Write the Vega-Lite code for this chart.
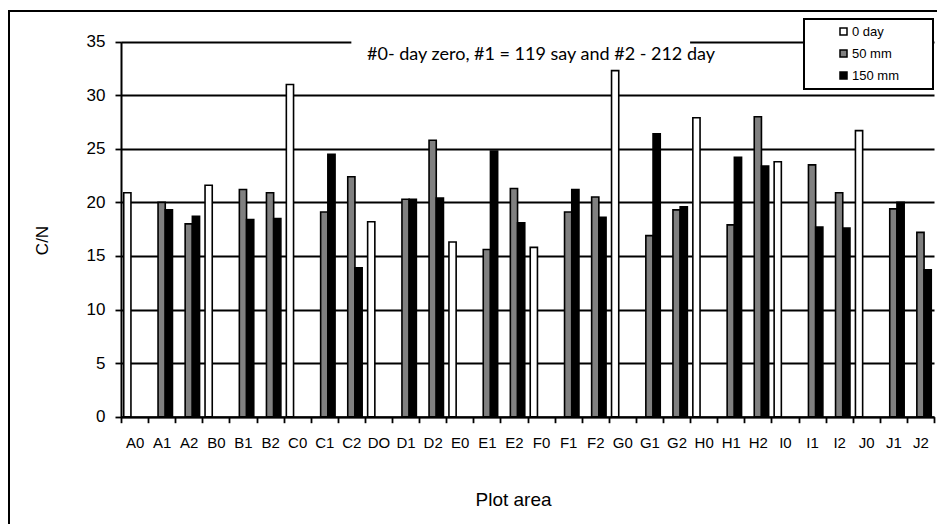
{
  "$schema": "https://vega.github.io/schema/vega-lite/v6.json",
  "autosize": {"type": "none"},
  "padding": {"left": 9, "top": 11, "right": 0, "bottom": 0},
  "width": 935,
  "height": 520,
  "background": "white",
  "config": {
    "view": {"stroke": "black", "strokeWidth": 2},
    "font": "Liberation Sans",
    "legend": {"strokeWidth": 2}
  },
  "data": {
    "values": [
      {"plot": "A0", "series": "0 day", "cn": 20.9},
      {"plot": "A1", "series": "50 mm", "cn": 20.0},
      {"plot": "A1", "series": "150 mm", "cn": 19.3},
      {"plot": "A2", "series": "50 mm", "cn": 18.0},
      {"plot": "A2", "series": "150 mm", "cn": 18.7},
      {"plot": "B0", "series": "0 day", "cn": 21.6},
      {"plot": "B1", "series": "50 mm", "cn": 21.2},
      {"plot": "B1", "series": "150 mm", "cn": 18.4},
      {"plot": "B2", "series": "50 mm", "cn": 20.9},
      {"plot": "B2", "series": "150 mm", "cn": 18.5},
      {"plot": "C0", "series": "0 day", "cn": 31.0},
      {"plot": "C1", "series": "50 mm", "cn": 19.1},
      {"plot": "C1", "series": "150 mm", "cn": 24.5},
      {"plot": "C2", "series": "50 mm", "cn": 22.4},
      {"plot": "C2", "series": "150 mm", "cn": 13.9},
      {"plot": "DO", "series": "0 day", "cn": 18.2},
      {"plot": "D1", "series": "50 mm", "cn": 20.3},
      {"plot": "D1", "series": "150 mm", "cn": 20.3},
      {"plot": "D2", "series": "50 mm", "cn": 25.8},
      {"plot": "D2", "series": "150 mm", "cn": 20.4},
      {"plot": "E0", "series": "0 day", "cn": 16.3},
      {"plot": "E1", "series": "50 mm", "cn": 15.6},
      {"plot": "E1", "series": "150 mm", "cn": 24.8},
      {"plot": "E2", "series": "50 mm", "cn": 21.3},
      {"plot": "E2", "series": "150 mm", "cn": 18.1},
      {"plot": "F0", "series": "0 day", "cn": 15.8},
      {"plot": "F1", "series": "50 mm", "cn": 19.1},
      {"plot": "F1", "series": "150 mm", "cn": 21.2},
      {"plot": "F2", "series": "50 mm", "cn": 20.5},
      {"plot": "F2", "series": "150 mm", "cn": 18.6},
      {"plot": "G0", "series": "0 day", "cn": 32.3},
      {"plot": "G1", "series": "50 mm", "cn": 16.9},
      {"plot": "G1", "series": "150 mm", "cn": 26.4},
      {"plot": "G2", "series": "50 mm", "cn": 19.3},
      {"plot": "G2", "series": "150 mm", "cn": 19.6},
      {"plot": "H0", "series": "0 day", "cn": 27.9},
      {"plot": "H1", "series": "50 mm", "cn": 17.9},
      {"plot": "H1", "series": "150 mm", "cn": 24.2},
      {"plot": "H2", "series": "50 mm", "cn": 28.0},
      {"plot": "H2", "series": "150 mm", "cn": 23.4},
      {"plot": "I0", "series": "0 day", "cn": 23.8},
      {"plot": "I1", "series": "50 mm", "cn": 23.5},
      {"plot": "I1", "series": "150 mm", "cn": 17.7},
      {"plot": "I2", "series": "50 mm", "cn": 20.9},
      {"plot": "I2", "series": "150 mm", "cn": 17.6},
      {"plot": "J0", "series": "0 day", "cn": 26.7},
      {"plot": "J1", "series": "50 mm", "cn": 19.4},
      {"plot": "J1", "series": "150 mm", "cn": 20.0},
      {"plot": "J2", "series": "50 mm", "cn": 17.2},
      {"plot": "J2", "series": "150 mm", "cn": 13.7}
    ]
  },
  "layer": [
    {
      "mark": {"type": "bar", "stroke": "black", "strokeWidth": 1.6},
      "encoding": {
        "x": {
          "field": "plot",
          "type": "nominal",
          "sort": ["A0","A1","A2","B0","B1","B2","C0","C1","C2","DO","D1","D2","E0","E1","E2","F0","F1","F2","G0","G1","G2","H0","H1","H2","I0","I1","I2","J0","J1","J2"],
          "scale": {
            "domain": ["A0","A1","A2","B0","B1","B2","C0","C1","C2","DO","D1","D2","E0","E1","E2","F0","F1","F2","G0","G1","G2","H0","H1","H2","I0","I1","I2","J0","J1","J2"],
            "range": [112, 925],
            "paddingInner": 0,
            "paddingOuter": 0
          },
          "axis": {
            "title": "Plot area",
            "titleFontSize": 19,
            "titleFontWeight": "normal",
            "titleColor": "black",
            "titleX": 504,
            "titleY": 89,
            "titleBaseline": "alphabetic",
            "labelAngle": 0,
            "labelFontSize": 15,
            "labelColor": "black",
            "labelPadding": 13,
            "tickBand": "extent",
            "tickSize": 6,
            "tickColor": "black",
            "tickWidth": 1.8,
            "domainColor": "black",
            "domainWidth": 2,
            "offset": -114.3,
            "grid": false
          }
        },
        "xOffset": {
          "field": "series",
          "type": "nominal",
          "sort": ["0 day", "50 mm", "150 mm"],
          "scale": {"domain": ["0 day", "50 mm", "150 mm"], "paddingInner": 0, "paddingOuter": 0.38}
        },
        "y": {
          "field": "cn",
          "type": "quantitative",
          "scale": {"domain": [0, 35], "range": [405.7, 30.7], "nice": false},
          "axis": {
            "title": "C/N",
            "titleFontSize": 17,
            "titleFontWeight": "normal",
            "titleColor": "black",
            "titleX": -70,
            "titleY": 229,
            "values": [0, 5, 10, 15, 20, 25, 30, 35],
            "labelFontSize": 17,
            "labelColor": "black",
            "labelPadding": 10,
            "tickSize": 6,
            "tickColor": "black",
            "tickWidth": 1.8,
            "domainColor": "black",
            "domainWidth": 2,
            "grid": true,
            "gridColor": "black",
            "gridWidth": 1.8,
            "gridOpacity": 1,
            "offset": -112
          }
        },
        "fill": {
          "field": "series",
          "type": "nominal",
          "scale": {"domain": ["0 day", "50 mm", "150 mm"], "range": ["#ffffff", "#808080", "#000000"]},
          "legend": {
            "orient": "none",
            "legendX": 795,
            "legendY": 8,
            "title": "MMM",
            "titleColor": "white",
            "titleOrient": "left",
            "titleFontSize": 10.5,
            "titlePadding": 0,
            "fillColor": "white",
            "strokeColor": "black",
            "padding": 6,
            "rowPadding": 8,
            "symbolType": "square",
            "symbolSize": 49,
            "symbolStrokeColor": "black",
            "symbolStrokeWidth": 1.5,
            "labelFontSize": 13,
            "labelColor": "black",
            "labelOffset": 2,
            "labelExpr": "datum.label + '\u2800\u00a0\u00a0\u2800'"
          }
        }
      }
    },
    {
      "data": {"values": [{"from": "C2", "to": "G2"}]},
      "mark": {"type": "rect", "fill": "white"},
      "encoding": {
        "x": {"datum": "C2", "type": "nominal", "bandPosition": 0.5},
        "x2": {"datum": "G2", "bandPosition": 1},
        "y": {"datum": 34.5, "type": "quantitative"},
        "y2": {"datum": 35.5}
      }
    },
    {
      "data": {"values": [{"note": "#0- day zero, #1 = 119 say and #2 - 212 day"}]},
      "mark": {"type": "text", "font": "Lato", "fontSize": 18, "fontWeight": "normal", "align": "center", "baseline": "alphabetic", "fill": "black"},
      "encoding": {
        "x": {"datum": "F0", "type": "nominal"},
        "y": {"datum": 33.3, "type": "quantitative"},
        "text": {"field": "note", "type": "nominal"}
      }
    }
  ]
}
